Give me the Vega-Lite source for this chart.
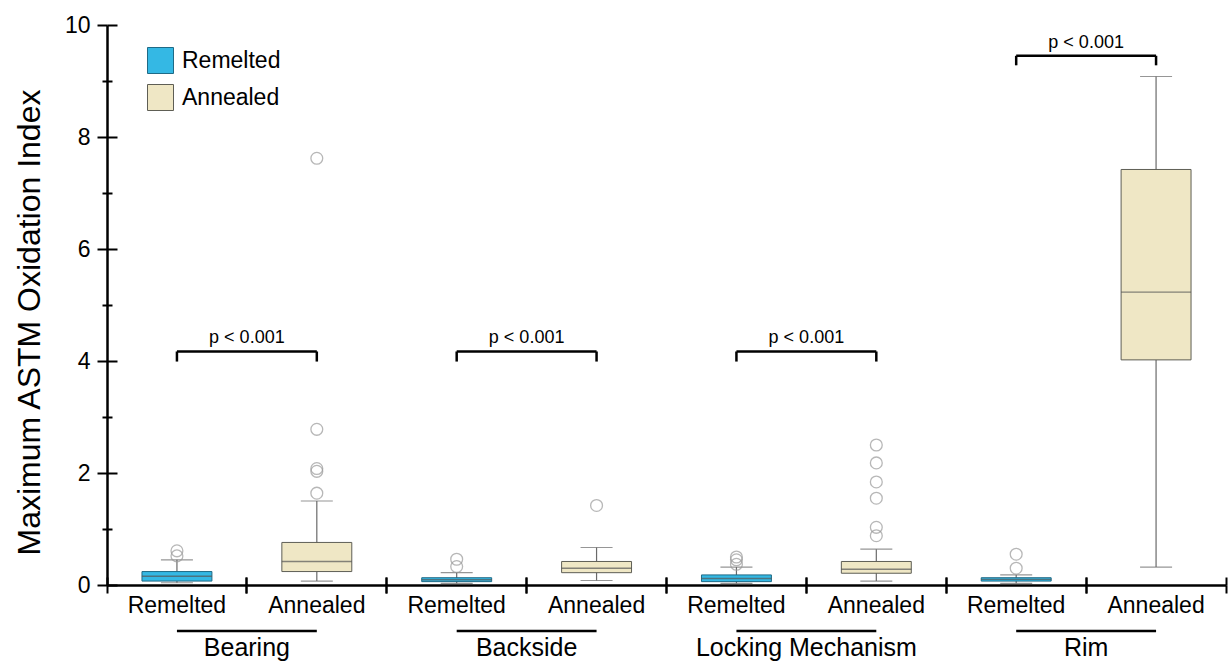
{
  "$schema": "https://vega.github.io/schema/vega-lite/v6.json",
  "width": 1119,
  "height": 560,
  "autosize": {"type": "none"},
  "padding": {"left": 107, "top": 25, "right": 3, "bottom": 79},
  "background": "white",
  "config": {
    "font": "Liberation Sans",
    "view": {"stroke": null},
    "axis": {"grid": false, "labelColor": "black", "titleColor": "black", "labelFont": "Liberation Sans", "titleFont": "Liberation Sans", "titleFontWeight": "normal"}
  },
  "datasets": {
    "boxes": [
      {"cat": "Bearing|Remelted", "type": "Remelted", "lower": 0.04, "q1": 0.07, "median": 0.155, "q3": 0.24, "upper": 0.45},
      {"cat": "Bearing|Annealed", "type": "Annealed", "lower": 0.07, "q1": 0.24, "median": 0.42, "q3": 0.76, "upper": 1.50},
      {"cat": "Backside|Remelted", "type": "Remelted", "lower": 0.03, "q1": 0.06, "median": 0.095, "q3": 0.13, "upper": 0.22},
      {"cat": "Backside|Annealed", "type": "Annealed", "lower": 0.08, "q1": 0.22, "median": 0.30, "q3": 0.42, "upper": 0.67},
      {"cat": "Locking Mechanism|Remelted", "type": "Remelted", "lower": 0.03, "q1": 0.06, "median": 0.115, "q3": 0.18, "upper": 0.32},
      {"cat": "Locking Mechanism|Annealed", "type": "Annealed", "lower": 0.07, "q1": 0.21, "median": 0.28, "q3": 0.42, "upper": 0.64},
      {"cat": "Rim|Remelted", "type": "Remelted", "lower": 0.03, "q1": 0.07, "median": 0.10, "q3": 0.13, "upper": 0.18},
      {"cat": "Rim|Annealed", "type": "Annealed", "lower": 0.32, "q1": 4.02, "median": 5.23, "q3": 7.42, "upper": 9.08}
    ],
    "outliers": [
      {"cat": "Bearing|Remelted", "value": 0.61},
      {"cat": "Bearing|Remelted", "value": 0.52},
      {"cat": "Bearing|Annealed", "value": 1.64},
      {"cat": "Bearing|Annealed", "value": 2.03},
      {"cat": "Bearing|Annealed", "value": 2.08},
      {"cat": "Bearing|Annealed", "value": 2.78},
      {"cat": "Bearing|Annealed", "value": 7.62},
      {"cat": "Backside|Remelted", "value": 0.46},
      {"cat": "Backside|Remelted", "value": 0.33},
      {"cat": "Backside|Annealed", "value": 1.42},
      {"cat": "Locking Mechanism|Remelted", "value": 0.50},
      {"cat": "Locking Mechanism|Remelted", "value": 0.45},
      {"cat": "Locking Mechanism|Remelted", "value": 0.37},
      {"cat": "Locking Mechanism|Annealed", "value": 0.88},
      {"cat": "Locking Mechanism|Annealed", "value": 1.03},
      {"cat": "Locking Mechanism|Annealed", "value": 1.55},
      {"cat": "Locking Mechanism|Annealed", "value": 1.84},
      {"cat": "Locking Mechanism|Annealed", "value": 2.18},
      {"cat": "Locking Mechanism|Annealed", "value": 2.50},
      {"cat": "Rim|Remelted", "value": 0.55},
      {"cat": "Rim|Remelted", "value": 0.30}
    ],
    "groups": [
      {"group": "Bearing", "left": "Bearing|Remelted", "right": "Bearing|Annealed", "top": 4.17, "foot": 3.99},
      {"group": "Backside", "left": "Backside|Remelted", "right": "Backside|Annealed", "top": 4.17, "foot": 3.99},
      {"group": "Locking Mechanism", "left": "Locking Mechanism|Remelted", "right": "Locking Mechanism|Annealed", "top": 4.17, "foot": 3.99},
      {"group": "Rim", "left": "Rim|Remelted", "right": "Rim|Annealed", "top": 9.45, "foot": 9.28}
    ]
  },
  "resolve": {"axis": {"x": "independent", "y": "independent"}},
  "layer": [
    {
      "data": {"name": "boxes"},
      "mark": {"type": "rule", "color": "#6a6a6a", "strokeWidth": 1.2},
      "encoding": {
        "x": {"field": "cat", "type": "nominal", "sort": null,
          "scale": {"domain": ["Bearing|Remelted", "Bearing|Annealed", "Backside|Remelted", "Backside|Annealed", "Locking Mechanism|Remelted", "Locking Mechanism|Annealed", "Rim|Remelted", "Rim|Annealed"], "paddingInner": 0, "paddingOuter": 0},
          "axis": {"orient": "bottom", "title": null, "domainColor": "black", "domainWidth": 2.5, "labelFontSize": 23, "labelPadding": 1, "labelAngle": 0, "labelBound": false, "labelOverlap": false, "labelExpr": "split(datum.label, '|')[1]", "bandPosition": 0.5, "ticks": true, "tickSize": 8, "tickOpacity": 0}},
        "y": {"field": "lower", "type": "quantitative",
          "scale": {"domain": [0, 10], "nice": false, "zero": false},
          "axis": {"orient": "left", "title": "Maximum ASTM Oxidation Index", "titleFontSize": 32, "titlePadding": 18, "titleY": 297, "values": [0, 2, 4, 6, 8, 10], "labelFontSize": 23, "labelPadding": 7, "domainColor": "black", "domainWidth": 2.5, "tickColor": "black", "tickWidth": 2, "tickSize": 10}},
        "y2": {"field": "upper"}
      }
    },
    {
      "data": {"name": "boxes"},
      "mark": {"type": "bar", "strokeWidth": 1, "width": {"band": 0.5}},
      "encoding": {
        "x": {"field": "cat", "type": "nominal", "sort": null,
          "axis": {"orient": "bottom", "bandPosition": 0, "labels": false, "domain": false, "title": null, "tickColor": "black", "tickWidth": 2, "tickSize": 8}},
        "y": {"field": "q1", "type": "quantitative",
          "axis": {"orient": "left", "values": [0, 2, 4, 6, 8, 10], "labels": false, "domain": false, "title": null, "tickColor": "black", "tickWidth": 2, "tickSize": -10}},
        "y2": {"field": "q3"},
        "color": {"field": "type", "type": "nominal",
          "scale": {"domain": ["Remelted", "Annealed"], "range": ["#34B8E4", "#EFE7C5"]},
          "legend": {"orient": "none", "legendX": 40, "legendY": 22, "title": null, "symbolType": "square", "symbolSize": 676, "symbolStrokeColor": "#b5b5a8", "symbolStrokeWidth": 1, "labelFontSize": 23, "labelColor": "black", "labelOffset": 8, "rowPadding": 6, "labelFont": "Liberation Sans"}},
        "stroke": {"field": "type", "type": "nominal",
          "scale": {"domain": ["Remelted", "Annealed"], "range": ["#1F6A86", "#5e5e55"]}, "legend": null}
      }
    },
    {
      "data": {"name": "boxes"},
      "mark": {"type": "tick", "color": "#555555", "thickness": 1.4, "size": 70},
      "encoding": {
        "x": {"field": "cat", "type": "nominal", "sort": null,
          "axis": {"orient": "bottom", "bandPosition": 1, "labels": false, "domain": false, "title": null, "tickColor": "black", "tickWidth": 2, "tickSize": 8}},
        "y": {"field": "median", "type": "quantitative",
          "axis": {"orient": "left", "values": [1, 3, 5, 7, 9], "labels": false, "domain": false, "title": null, "tickColor": "black", "tickWidth": 2, "tickSize": 5}}
      }
    },
    {
      "data": {"name": "boxes"},
      "mark": {"type": "tick", "color": "#6a6a6a", "thickness": 1.2, "size": 32},
      "encoding": {
        "x": {"field": "cat", "type": "nominal", "sort": null,
          "axis": {"orient": "bottom", "bandPosition": 1, "labels": false, "domain": false, "title": null, "tickColor": "black", "tickWidth": 2, "tickSize": -8}},
        "y": {"field": "upper", "type": "quantitative",
          "axis": {"orient": "left", "values": [1, 3, 5, 7, 9], "labels": false, "domain": false, "title": null, "tickColor": "black", "tickWidth": 2, "tickSize": -5}}
      }
    },
    {
      "data": {"name": "boxes"},
      "mark": {"type": "tick", "color": "#6a6a6a", "thickness": 1.2, "size": 32},
      "encoding": {
        "x": {"field": "cat", "type": "nominal", "sort": null,
          "axis": {"orient": "bottom", "bandPosition": 0, "labels": false, "domain": false, "title": null, "tickColor": "black", "tickWidth": 2, "tickSize": -8}},
        "y": {"field": "lower", "type": "quantitative", "axis": null}
      }
    },
    {
      "data": {"name": "outliers"},
      "mark": {"type": "point", "shape": "circle", "filled": false, "stroke": "#9a9a9a", "strokeWidth": 1.3, "size": 140},
      "encoding": {
        "x": {"field": "cat", "type": "nominal", "sort": null, "axis": null},
        "y": {"field": "value", "type": "quantitative", "axis": null}
      }
    },
    {
      "data": {"name": "groups"},
      "mark": {"type": "rule", "color": "black", "strokeWidth": 2.5},
      "encoding": {
        "x": {"field": "left", "type": "nominal", "sort": null, "axis": null},
        "x2": {"field": "right"},
        "y": {"field": "top", "type": "quantitative", "axis": null}
      }
    },
    {
      "data": {"name": "groups"},
      "mark": {"type": "rule", "color": "black", "strokeWidth": 2.5},
      "encoding": {
        "x": {"field": "left", "type": "nominal", "sort": null, "axis": null},
        "y": {"field": "top", "type": "quantitative", "axis": null},
        "y2": {"field": "foot"}
      }
    },
    {
      "data": {"name": "groups"},
      "mark": {"type": "rule", "color": "black", "strokeWidth": 2.5},
      "encoding": {
        "x": {"field": "right", "type": "nominal", "sort": null, "axis": null},
        "y": {"field": "top", "type": "quantitative", "axis": null},
        "y2": {"field": "foot"}
      }
    },
    {
      "data": {"name": "groups"},
      "mark": {"type": "text", "fontSize": 18, "color": "black", "baseline": "alphabetic", "align": "center", "dy": -8},
      "encoding": {
        "x": {"field": "left", "type": "nominal", "sort": null, "bandPosition": 1, "axis": null},
        "y": {"field": "top", "type": "quantitative", "axis": null},
        "text": {"value": "p < 0.001"}
      }
    },
    {
      "data": {"name": "groups"},
      "mark": {"type": "rule", "color": "black", "strokeWidth": 2.5},
      "encoding": {
        "x": {"field": "left", "type": "nominal", "sort": null, "axis": null},
        "x2": {"field": "right"},
        "y": {"datum": -0.82, "type": "quantitative", "axis": null}
      }
    },
    {
      "data": {"name": "groups"},
      "mark": {"type": "text", "fontSize": 25, "color": "black", "baseline": "middle", "align": "center"},
      "encoding": {
        "x": {"field": "left", "type": "nominal", "sort": null, "bandPosition": 1, "axis": null},
        "y": {"datum": -1.13, "type": "quantitative", "axis": null},
        "text": {"field": "group"}
      }
    }
  ]
}
